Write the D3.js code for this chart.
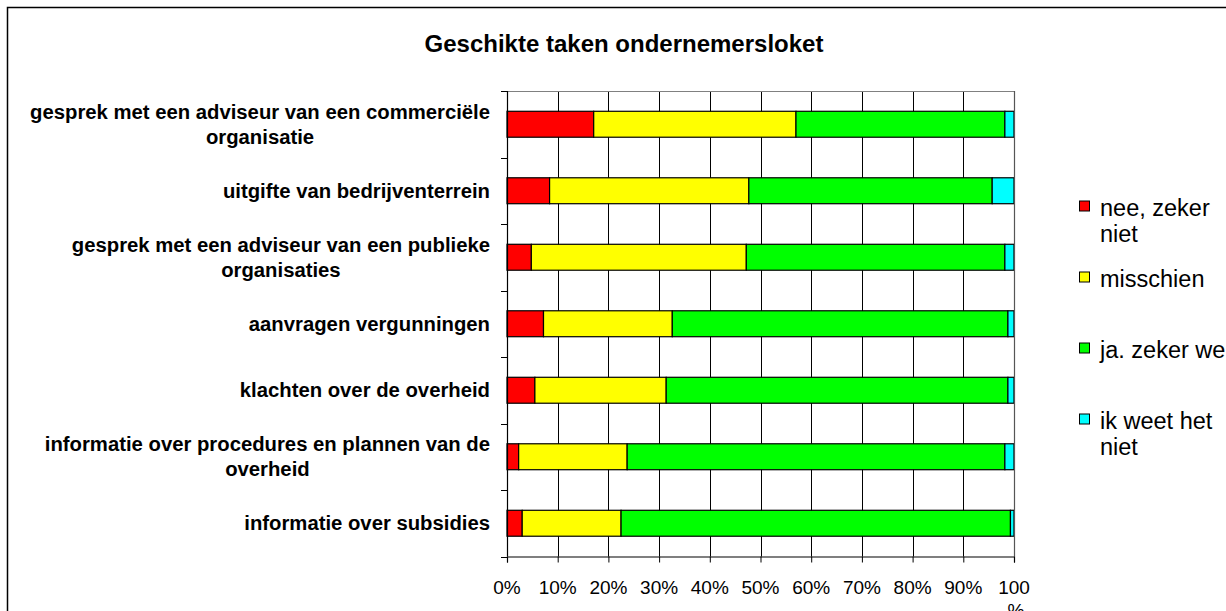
<!DOCTYPE html>
<html>
<head>
<meta charset="utf-8">
<script src="https://cdn.jsdelivr.net/npm/d3@7"></script>
<style>
  body { margin: 0; background: #fff; }
  svg { display: block; font-family: "Liberation Sans", Arial, sans-serif; }
</style>
</head>
<body>
<div id="chart"></div>
<script>
// categories, top to bottom (line breaks as in the original chart)
const categories = [
  'gesprek met een adviseur van een commerciële\norganisatie',
  'uitgifte van bedrijventerrein',
  'gesprek met een adviseur van een publieke\norganisaties',
  'aanvragen vergunningen',
  'klachten over de overheid',
  'informatie over procedures en plannen van de\noverheid',
  'informatie over subsidies'
];

const seriesNames = ['nee, zeker\nniet', 'misschien', 'ja. zeker wel', 'ik weet het\nniet'];
const seriesColors = ['#ff0000', '#ffff00', '#00ff00', '#00ffff'];

// percentages per category
const neeZekerNiet = [17.1, 8.4, 4.8, 7.2, 5.5, 2.3, 3.0];
const misschien   = [39.9, 39.3, 42.4, 25.4, 25.9, 21.4, 19.5];
const jaZekerWel  = [41.2, 48.0, 51.0, 66.2, 67.4, 74.5, 76.8];
const weetNiet    = [1.8, 4.3, 1.8, 1.2, 1.2, 1.8, 0.7];

const tickValues = [0, 10, 20, 30, 40, 50, 60, 70, 80, 90, 100];
const tickLabels = ['0%', '10%', '20%', '30%', '40%', '50%', '60%', '70%', '80%', '90%', '100\n%'];

const width = 1226, height = 611;
const plot = { left: 507, right: 1014, top: 91, bottom: 556.5 };

const svg = d3.select('#chart').append('svg')
  .attr('width', width)
  .attr('height', height);

svg.append('rect')
  .attr('width', width).attr('height', height)
  .attr('fill', '#fff');

// outer chart border (runs off the right and bottom of the picture)
svg.append('rect')
  .attr('x', 7.5).attr('y', 7.5)
  .attr('width', width + 20).attr('height', height + 20)
  .attr('fill', 'none')
  .attr('stroke', '#000')
  .attr('stroke-width', 1.5);

svg.append('text')
  .attr('x', 624).attr('y', 52)
  .attr('text-anchor', 'middle')
  .attr('font-size', 24)
  .attr('font-weight', 'bold')
  .text('Geschikte taken ondernemersloket');

const x = d3.scaleLinear().domain([0, 100]).range([plot.left, plot.right]);
const y = d3.scaleBand()
  .domain(categories)
  .range([plot.top, plot.bottom])
  .paddingInner(0.61)
  .paddingOuter(0.305);

// vertical gridlines
svg.append('g')
  .selectAll('line')
  .data(tickValues.slice(1))
  .enter().append('line')
  .attr('x1', d => Math.round(x(d)) + 0.5)
  .attr('x2', d => Math.round(x(d)) + 0.5)
  .attr('y1', plot.top)
  .attr('y2', plot.bottom)
  .attr('stroke', '#000')
  .attr('stroke-width', 1);

// plot area top border
svg.append('line')
  .attr('x1', plot.left).attr('x2', plot.right)
  .attr('y1', plot.top + 0.5).attr('y2', plot.top + 0.5)
  .attr('stroke', '#808080');

// stacked bars
const series = [neeZekerNiet, misschien, jaZekerWel, weetNiet];
const rows = categories.map((c, i) => {
  const obj = { cat: c };
  series.forEach((s, j) => { obj['s' + j] = s[i]; });
  return obj;
});
const stack = d3.stack().keys(series.map((s, j) => 's' + j))(rows);

svg.append('g')
  .selectAll('g')
  .data(stack)
  .enter().append('g')
  .attr('fill', (d, i) => seriesColors[i])
  .selectAll('rect')
  .data(d => d)
  .enter().append('rect')
  .attr('x', d => x(d[0]))
  .attr('width', d => x(d[1]) - x(d[0]))
  .attr('y', d => y(d.data.cat))
  .attr('height', y.bandwidth())
  .attr('stroke', '#000')
  .attr('stroke-width', 1.2);

// x axis
const xAxis = svg.append('g')
  .attr('transform', 'translate(0,' + plot.bottom + ')')
  .call(d3.axisBottom(x).tickValues(tickValues).tickSize(6).tickFormat(''));
xAxis.select('.domain').attr('stroke', '#000').attr('stroke-width', 1.2);

const xLabels = svg.append('g').selectAll('text')
  .data(tickValues)
  .enter().append('text')
  .attr('x', d => x(d))
  .attr('y', 594)
  .attr('text-anchor', 'middle')
  .attr('font-size', 19);
xLabels.each(function (d, i) {
  const lines = tickLabels[i].split('\n');
  lines.forEach((line, k) => {
    d3.select(this).append('tspan')
      .attr('x', x(d) + (k > 0 ? 2 : 0))
      .attr('dy', k === 0 ? 0 : 23)
      .text(line);
  });
});

// y axis with ticks at band boundaries
const step = y.step();
const bounds = d3.range(categories.length + 1).map(i => plot.top + i * step);
svg.append('line')
  .attr('x1', plot.left + 0.5).attr('x2', plot.left + 0.5)
  .attr('y1', plot.top).attr('y2', plot.bottom)
  .attr('stroke', '#000').attr('stroke-width', 1.2);
svg.append('line')
  .attr('x1', plot.right + 0.5).attr('x2', plot.right + 0.5)
  .attr('y1', plot.top).attr('y2', plot.bottom)
  .attr('stroke', '#555').attr('stroke-width', 1.2);
svg.append('g').selectAll('line')
  .data(bounds)
  .enter().append('line')
  .attr('x1', plot.left - 6).attr('x2', plot.left)
  .attr('y1', d => Math.round(d) + 0.5).attr('y2', d => Math.round(d) + 0.5)
  .attr('stroke', '#000');

// category labels: block right aligned, lines centred in the block
const labelRight = 490;
const lineH = 25;
categories.forEach(cat => {
  const lines = cat.split('\n');
  const cy = y(cat) + y.bandwidth() / 2;
  const g = svg.append('g');
  const texts = lines.map((line, k) => g.append('text')
    .attr('y', cy - (lines.length - 1) * lineH / 2 + k * lineH + 7)
    .attr('font-size', 20.3)
    .attr('font-weight', 'bold')
    .attr('text-anchor', 'middle')
    .text(line));
  const maxW = d3.max(texts, t => t.node().getComputedTextLength());
  texts.forEach(t => t.attr('x', labelRight - maxW / 2));
});

// legend
const legendY = [206, 277, 348, 419];
const legend = svg.append('g').selectAll('g')
  .data(seriesNames)
  .enter().append('g');
legend.append('rect')
  .attr('x', 1079.5)
  .attr('y', (d, i) => legendY[i] - 5)
  .attr('width', 10).attr('height', 10)
  .attr('fill', (d, i) => seriesColors[i])
  .attr('stroke', '#000').attr('stroke-width', 1);
legend.each(function (d, i) {
  d.split('\n').forEach((line, k) => {
    d3.select(this).append('text')
      .attr('x', 1100)
      .attr('y', legendY[i] + 10 + k * 25.5)
      .attr('font-size', 23.5)
      .text(line);
  });
});
</script>
</body>
</html>
